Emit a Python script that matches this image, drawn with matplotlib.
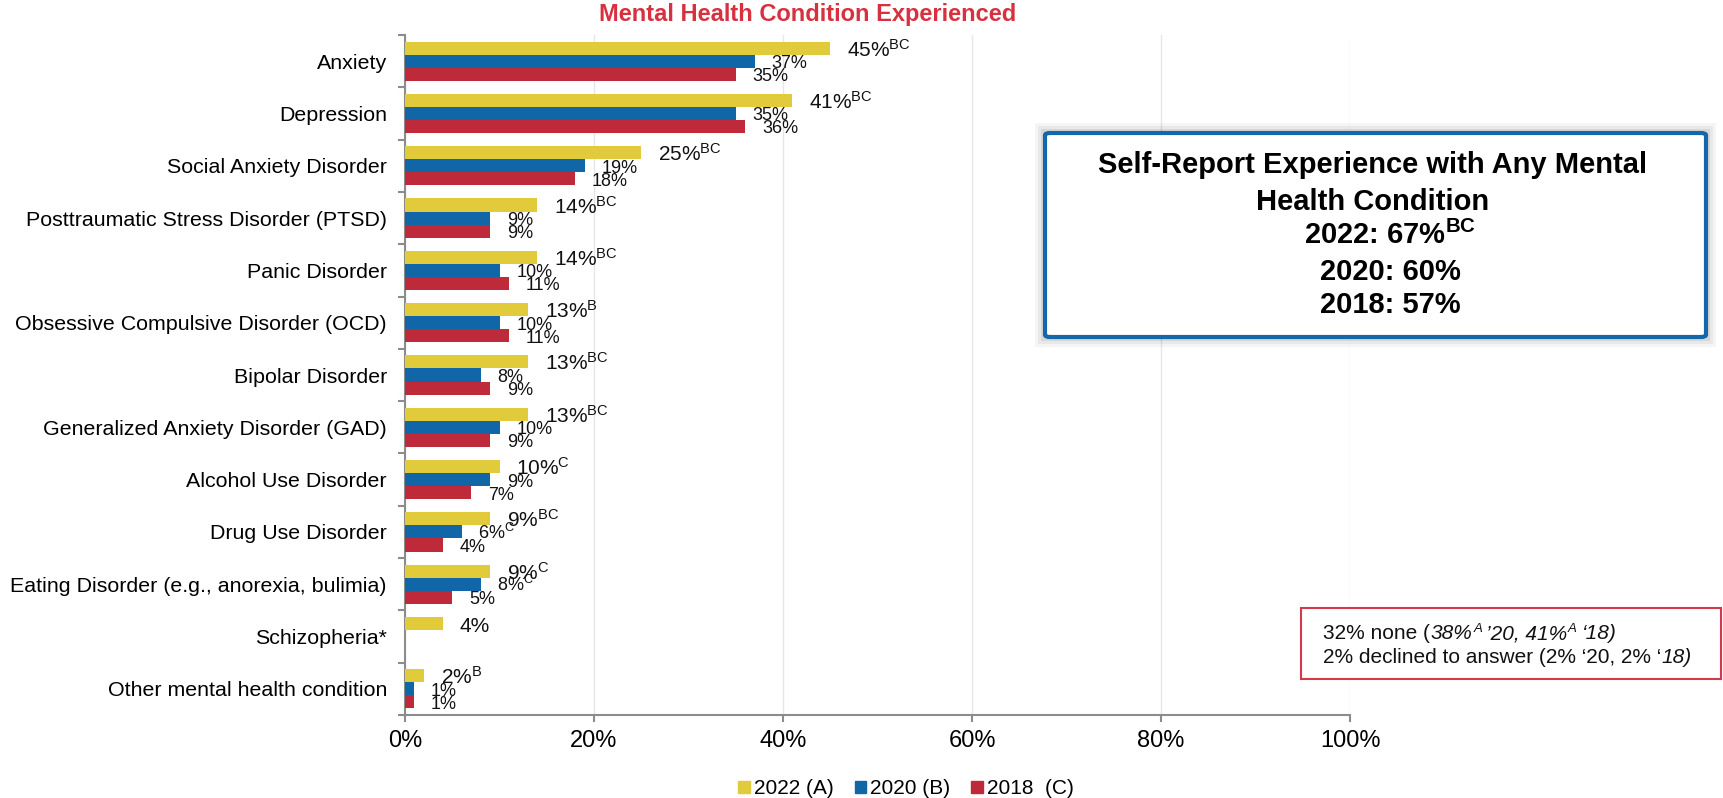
import matplotlib
matplotlib.use("Agg")
import matplotlib.pyplot as plt
import numpy as np
from matplotlib import font_manager as fm
from matplotlib.patches import FancyBboxPatch, Rectangle, Patch

plt.rcParams['font.family'] = ['Liberation Sans', 'DejaVu Sans']
plt.rcParams['mathtext.fontset'] = 'custom'
plt.rcParams['mathtext.rm'] = 'Liberation Sans'
plt.rcParams['mathtext.it'] = 'Liberation Sans:italic'
plt.rcParams['mathtext.bf'] = 'Liberation Sans:bold'

# ---- data (top to bottom) ----
categories = ['Anxiety', 'Depression', 'Social Anxiety Disorder',
              'Posttraumatic Stress Disorder (PTSD)', 'Panic Disorder',
              'Obsessive Compulsive Disorder (OCD)', 'Bipolar Disorder',
              'Generalized Anxiety Disorder (GAD)', 'Alcohol Use Disorder',
              'Drug Use Disorder', 'Eating Disorder (e.g., anorexia, bulimia)',
              'Schizopheria*', 'Other mental health condition']
v2022 = [45, 41, 25, 14, 14, 13, 13, 13, 10, 9, 9, 4, 2]
v2020 = [37, 35, 19, 9, 10, 10, 8, 10, 9, 6, 8, None, 1]
v2018 = [35, 36, 18, 9, 11, 11, 9, 9, 7, 4, 5, None, 1]
sup2022 = ['BC', 'BC', 'BC', 'BC', 'BC', 'B', 'BC', 'BC', 'C', 'BC', 'C', '', 'B']
sup2020 = ['', '', '', '', '', '', '', '', '', 'C', 'C', '', '']
sup2018 = [''] * 13
series_names = ['2022 (A)', '2020 (B)', '2018  (C)']
xticks = [0, 20, 40, 60, 80, 100]

YELLOW = '#E2CB3A'
BLUE = '#1066A6'
RED = '#BF2A3A'
GRAY = '#8c8c8c'

W, H = 1723, 798
fig = plt.figure(figsize=(W / 100, H / 100), dpi=100)
ax = fig.add_axes([405 / W, 1 - 715 / H, (1350 - 405) / W, (715 - 35) / H])

idx = np.arange(len(categories))
bh = 0.25
series = [(v2022, sup2022, YELLOW, -bh, 15), (v2020, sup2020, BLUE, 0, 13),
          (v2018, sup2018, RED, bh, 13)]
for vals, sups, col, off, fs in series:
    ys = [i + off for i, v in zip(idx, vals) if v is not None]
    xs = [v for v in vals if v is not None]
    ax.barh(ys, xs, height=bh, color=col, zorder=3)
    for i, v in enumerate(vals):
        if v is None:
            continue
        s = f"{v}%"
        if sups[i]:
            s += r"$^{\mathrm{" + sups[i] + "}}$"
        dy = -6 if fs == 15 else -5
        ax.annotate(s, xy=(v, i + off), xytext=(12, dy), textcoords='offset points',
                    ha='left', va='baseline', fontsize=fs, color='#111111', zorder=4)

ax.set_xlim(0, 100)
ax.set_ylim(len(categories) - 0.5, -0.5)
ax.set_xticks(xticks)
ax.set_xticklabels([f"{t}%" for t in xticks], fontsize=17)
ax.set_yticks(np.arange(-0.5, len(categories), 1))
ax.set_yticklabels([])
ax.set_yticks(idx, minor=True)
ax.set_yticklabels(categories, minor=True, fontsize=15.4)
ax.tick_params(axis='y', which='major', length=5, width=1.5, color=GRAY)
ax.tick_params(axis='y', which='minor', length=0, pad=13)
ax.tick_params(axis='x', length=5, width=1.5, color=GRAY, pad=6)
for side in ['top', 'right']:
    ax.spines[side].set_visible(False)
for side in ['left', 'bottom']:
    ax.spines[side].set_color(GRAY)
    ax.spines[side].set_linewidth(1.5)
ax.xaxis.grid(True, color='#e6e6e6', lw=1, zorder=0)
ax.set_axisbelow(True)

# ---- title ----
names = {f.name for f in fm.fontManager.ttflist}
if 'Liberation Sans Narrow' in names:
    title_kw = dict(family='Liberation Sans Narrow', fontsize=20)
else:
    title_kw = dict(family='Liberation Sans', fontsize=17)
fig.text(808 / W, 1 - 15 / H, 'Mental Health Condition Experienced', ha='center',
         va='center', color='#D7303F', fontweight='bold', **title_kw)

# ---- blue summary box ----
bx0, by0, bx1, by1 = 1045, 133, 1706, 337
for k, a in zip([10, 7, 4], [0.04, 0.05, 0.07]):
    fig.patches.append(Rectangle(((bx0 - k) / W, 1 - (by1 + k) / H),
                                 (bx1 - bx0 + 2 * k) / W, (by1 - by0 + 2 * k) / H,
                                 transform=fig.transFigure, facecolor='#000000',
                                 alpha=a, edgecolor='none'))
fig.patches.append(FancyBboxPatch((bx0 / W, 1 - by1 / H), (bx1 - bx0) / W, (by1 - by0) / H,
                                  boxstyle='round,pad=0,rounding_size=0.003',
                                  transform=fig.transFigure, facecolor='white',
                                  edgecolor='#1467AA', linewidth=3))
box_lines = [('Self-Report Experience with Any Mental', 1373, 165),
             ('Health Condition', 1373, 202),
             (r'2022: 67%$^{\mathbf{BC}}$', 1390, 235),
             ('2020: 60%', 1390, 272),
             ('2018: 57%', 1390, 305)]
for s, x, y in box_lines:
    fig.text(x / W, 1 - y / H, s, ha='center', va='center', fontsize=21,
             fontweight='bold', color='black')

# ---- red note box ----
fig.patches.append(Rectangle((1301 / W, 1 - 679 / H), (1721 - 1301) / W, (679 - 608) / H,
                             transform=fig.transFigure, facecolor='white',
                             edgecolor='#D23A4A', linewidth=1.5))
renderer = fig.canvas.get_renderer()


def runs(x, base_y, parts):
    # parts: (text, style, size, rise_px, gap_px)
    for s, style, size, rise, gap in parts:
        x += gap
        t = fig.text(x / W, 1 - (base_y - rise) / H, s, ha='left', va='baseline',
                     fontsize=size, style=style, color='#111111')
        x = t.get_window_extent(renderer).x1


runs(1323, 639, [('32% none (', 'normal', 15, 0, 0),
                 ('38%', 'italic', 15, 0, 1),
                 ('A', 'italic', 9.5, 7, 1),
                 ('\u201920, 41%', 'italic', 15, 0, 3),
                 ('A', 'italic', 9.5, 7, 1),
                 ('\u201818)', 'italic', 15, 0, 5)])
runs(1323, 663, [('2% declined to answer (2% \u201820, 2% \u2018', 'normal', 15, 0, 0),
                 ('18)', 'italic', 15, 0, 0)])

# ---- legend ----
handles = [Patch(color=c) for c in (YELLOW, BLUE, RED)]
fig.legend(handles, series_names, loc='center', bbox_to_anchor=(906 / W, 1 - 789 / H),
           ncol=3, frameon=False, fontsize=15, handlelength=0.55, handleheight=0.55,
           handletextpad=0.2, columnspacing=1.0, borderpad=0, borderaxespad=0)

fig.savefig('out.png', dpi=100)
